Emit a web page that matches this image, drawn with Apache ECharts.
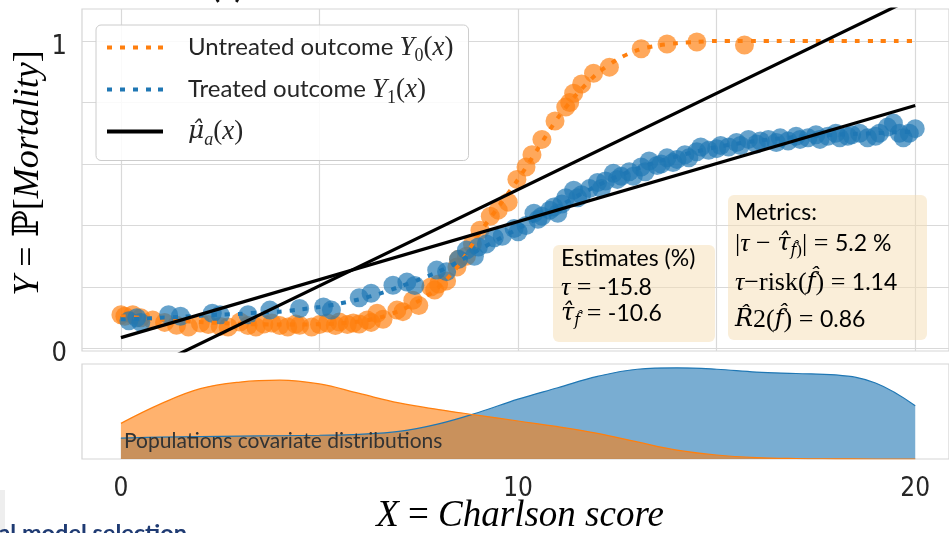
<!DOCTYPE html>
<html><head><meta charset="utf-8">
<script src="https://cdn.jsdelivr.net/npm/echarts@6/dist/echarts.min.js"></script>
<style>html,body{margin:0;padding:0;background:#fff;overflow:hidden}#c{width:949px;height:533px}</style>
</head><body><div id="c"></div>
<script>
// ---------- data ----------
const untreatedPoints = [
  [0.0,0.11],[0.1,0.105],[0.3,0.11],[0.5,0.10],[0.8,0.093],[1.1,0.085],[1.4,0.076],[1.7,0.07],
  [2.0,0.083],[2.2,0.078],[2.5,0.072],[2.7,0.07],[3.0,0.086],[3.2,0.075],[3.4,0.07],[3.6,0.08],
  [3.8,0.083],[4.0,0.075],[4.2,0.07],[4.4,0.08],[4.5,0.076],[4.8,0.07],[5.0,0.078],[5.2,0.083],
  [5.4,0.075],[5.5,0.086],[5.7,0.078],[5.85,0.083],[6.0,0.08],[6.2,0.093],[6.3,0.085],[6.45,0.115],
  [6.6,0.095],[6.95,0.125],[7.1,0.12],[7.35,0.157],[7.5,0.14],[7.8,0.20],[7.9,0.19],[8.0,0.21],
  [8.2,0.22],[8.46,0.265],[8.5,0.29],[8.7,0.30],[8.85,0.34],[9.04,0.385],[9.3,0.43],[9.5,0.45],
  [9.75,0.476],[9.97,0.55],[10.2,0.59],[10.35,0.63],[10.6,0.68],[10.93,0.74],[11.2,0.785],[11.3,0.80],
  [11.4,0.83],[11.6,0.86],[11.9,0.895],[12.3,0.915],[13.1,0.975],[13.75,0.99],[14.5,0.997],[15.7,0.987]
];
const treatedPoints = [
  [0.2,0.09],[0.4,0.10],[0.5,0.085],[1.2,0.11],[1.5,0.105],[2.3,0.115],[2.5,0.11],[3.2,0.11],
  [3.75,0.125],[4.5,0.13],[5.1,0.135],[5.3,0.125],[6.0,0.165],[6.3,0.18],[6.85,0.206],[7.2,0.216],
  [7.4,0.205],[7.95,0.255],[8.2,0.25],[8.5,0.29],[8.7,0.32],[8.9,0.30],[9.0,0.33],[9.2,0.34],
  [9.4,0.36],[9.6,0.365],[9.9,0.39],[10.0,0.38],[10.2,0.40],[10.4,0.44],[10.5,0.42],[10.6,0.43],
  [10.8,0.45],[10.9,0.46],[11.0,0.44],[11.1,0.47],[11.2,0.49],[11.4,0.515],[11.5,0.49],[11.6,0.50],
  [11.8,0.52],[12.0,0.54],[12.1,0.52],[12.2,0.545],[12.4,0.57],[12.5,0.55],[12.6,0.56],[12.8,0.575],
  [12.9,0.56],[13.1,0.59],[13.2,0.575],[13.3,0.61],[13.5,0.595],[13.6,0.60],[13.75,0.62],[13.9,0.605],
  [14.0,0.615],[14.2,0.63],[14.3,0.62],[14.5,0.64],[14.6,0.655],[14.8,0.645],[15.0,0.65],[15.1,0.66],
  [15.3,0.655],[15.5,0.67],[15.6,0.66],[15.8,0.68],[16.0,0.665],[16.1,0.675],[16.3,0.68],[16.5,0.67],
  [16.6,0.685],[16.8,0.675],[17.0,0.69],[17.1,0.68],[17.3,0.685],[17.5,0.695],[17.6,0.68],[17.8,0.69],
  [18.0,0.70],[18.1,0.685],[18.3,0.69],[18.4,0.695],[18.6,0.70],[18.8,0.685],[19.0,0.69],[19.1,0.70],
  [19.3,0.72],[19.45,0.733],[19.6,0.70],[19.7,0.685],[19.85,0.70],[20.0,0.715]
];
const curveX = [0,0.5,1,1.5,2,2.5,3,3.5,4,4.5,5,5.5,6,6.5,7,7.5,8,8.5,9,9.5,10,10.5,11,11.5,12,12.5,13,13.5,14,14.5,15,15.5,16,16.5,17,17.5,18,18.5,19,19.5,20];
const untreatedCurve = [0.105,0.10,0.095,0.09,0.086,0.083,0.08,0.079,0.078,0.078,0.079,0.082,0.088,0.10,0.122,0.155,0.20,0.27,0.37,0.46,0.55,0.65,0.75,0.83,0.895,0.94,0.97,0.985,0.993,0.997,1,1,1,1,1,1,1,1,1,1,1];
const treatedCurve = [0.095,0.097,0.10,0.103,0.107,0.11,0.113,0.117,0.12,0.127,0.135,0.146,0.16,0.178,0.2,0.224,0.25,0.283,0.32,0.355,0.39,0.425,0.46,0.497,0.53,0.56,0.585,0.607,0.625,0.641,0.655,0.666,0.675,0.682,0.688,0.692,0.695,0.698,0.70,0.703,0.705];
const fitX = [0, 20];
const fitUntreated = [-0.109, 1.143];
const fitTreated = [0.0355, 0.79];
const densityX = [0,1,2,3,4,5,6,7,8,9,10,11,12,13,14,15,16,17,18,19,20];
const densityUntreated = [0.375,0.58,0.74,0.81,0.83,0.79,0.69,0.59,0.52,0.46,0.40,0.34,0.27,0.18,0.094,0.042,0.015,0.005,0.002,0,0];
const densityTreated = [0.22,0.23,0.235,0.24,0.245,0.25,0.26,0.29,0.37,0.49,0.63,0.75,0.87,0.945,0.96,0.945,0.915,0.90,0.885,0.80,0.56];
const xGridTicks = [0,5,10,15,20];
const xLabelTicks = [0,10,20];
const yGridTicks = [0,0.2,0.4,0.6,0.8,1];
const yLabelTicks = [0,1];
const legendNames = ['Untreated outcome','Treated outcome','mu'];

// ---------- style ----------
const ORANGE = '#ff7f0e', BLUE = '#1f77b4', INK = '#262626';
const fSans = 'Lato, "DejaVu Sans", sans-serif';
const fNarrow = '"Liberation Sans Narrow", "DejaVu Sans Condensed", Lato, sans-serif';
const fMath = '"Liberation Serif", "DejaVu Serif", serif';
const fHat = '"DejaVu Serif", serif';
const pair = (xs, ys) => xs.map((x, i) => [x, ys[i]]);
const dotsIcon = 'path://M0,0h5v4h-5z M13,0h5v4h-5z M26,0h5v4h-5z M39,0h5v4h-5z M51,0h5v4h-5z';
const solidIcon = 'path://M0,0h56v4h-56z';

function mathRich(size, lh, sansSize, subSize, subLH) {
  return {
    n: {fontFamily: fSans, fontSize: sansSize, color: INK, lineHeight: lh, verticalAlign: 'middle'},
    n0: {fontFamily: fSans, fontSize: sansSize, color: INK, lineHeight: lh, verticalAlign: 'middle', padding: [0,0,0,20]},
    m: {fontFamily: fMath, fontStyle: 'italic', fontSize: size, color: INK, lineHeight: lh, verticalAlign: 'middle'},
    h: {fontFamily: fHat, fontStyle: 'italic', fontSize: size - 2, color: INK, lineHeight: lh, verticalAlign: 'middle'},
    h0: {fontFamily: fHat, fontStyle: 'italic', fontSize: size - 2, color: INK, lineHeight: lh, verticalAlign: 'middle', padding: [0,0,0,20]},
    p: {fontFamily: fMath, fontSize: size, color: INK, lineHeight: lh, verticalAlign: 'middle'},
    s: {fontFamily: fMath, fontStyle: 'italic', fontSize: subSize, color: INK, lineHeight: subLH, verticalAlign: 'bottom'},
    sh: {fontFamily: fHat, fontStyle: 'italic', fontSize: subSize - 1, color: INK, lineHeight: subLH, verticalAlign: 'bottom'},
    sp: {fontFamily: fMath, fontSize: subSize, color: INK, lineHeight: subLH, verticalAlign: 'bottom'}
  };
}
const legendRich = mathRich(27, 36, 24, 18, 20);
const boxRich = mathRich(26, 30, 23, 17, 16);
const legendText = {
  'Untreated outcome': '{n0|Untreated outcome }{m|Y}{sp|0}{p|(}{m|x}{p|)}',
  'Treated outcome': '{n0|Treated outcome }{m|Y}{sp|1}{p|(}{m|x}{p|)}',
  'mu': '{h0|μ\u0302}{s|a}{p|(}{m|x}{p|)}'
};

function boxText(x, y, text) {
  return {type: 'text', x: x, y: y, z: 101, style: {text: text, rich: boxRich, verticalAlign: 'middle', align: 'left'}};
}

const chart = echarts.init(document.getElementById('c'), null, {renderer: 'canvas'});
chart.setOption({
  animation: false,
  backgroundColor: '#ffffff',
  grid: [
    {left: 82, top: 9, right: 0, height: 342, show: true, borderColor: '#d5d5d5', borderWidth: 1.2},
    {left: 82, top: 364, right: 0, height: 95, show: true, borderColor: '#d5d5d5', borderWidth: 1.2}
  ],
  xAxis: [
    {gridIndex: 0, type: 'value', min: -0.98, max: 20.85,
     axisLine: {show: false}, axisTick: {show: false, customValues: xGridTicks},
     axisLabel: {show: false}, splitLine: {show: true, lineStyle: {color: '#d9d9d9', width: 1.2}}},
    {gridIndex: 1, type: 'value', min: -0.98, max: 20.85,
     axisLine: {show: false}, axisTick: {show: false, customValues: xLabelTicks},
     axisLabel: {show: true, customValues: xLabelTicks, margin: 17, fontSize: 26, fontFamily: fNarrow, color: INK},
     splitLine: {show: false}}
  ],
  yAxis: [
    {gridIndex: 0, type: 'value', min: -0.008, max: 1.104,
     axisLine: {show: false}, axisTick: {show: false, customValues: yGridTicks},
     axisLabel: {show: true, customValues: yLabelTicks, margin: 15, fontSize: 27, fontFamily: fNarrow, color: INK,
                 verticalAlign: 'top', lineHeight: 11, formatter: v => String(v)},
     splitLine: {show: true, lineStyle: {color: '#d9d9d9', width: 1.2}}},
    {gridIndex: 1, type: 'value', min: 0, max: 1,
     axisLine: {show: false}, axisTick: {show: false}, axisLabel: {show: false}, splitLine: {show: false}}
  ],
  legend: {
    orient: 'vertical', left: 96, top: 25,
    padding: [9, 15, 11, 11], itemGap: 10.5,
    itemWidth: 56, itemHeight: 4,
    backgroundColor: 'rgba(255,255,255,0.85)', borderColor: '#cccccc', borderWidth: 1, borderRadius: 5,
    selectedMode: false,
    data: [
      {name: legendNames[0], icon: dotsIcon, itemStyle: {color: ORANGE}},
      {name: legendNames[1], icon: dotsIcon, itemStyle: {color: BLUE}},
      {name: legendNames[2], icon: solidIcon, itemStyle: {color: '#000'}}
    ],
    formatter: name => legendText[name],
    textStyle: {rich: legendRich}
  },
  series: [
    {name: 'Untreated samples', type: 'scatter', xAxisIndex: 0, yAxisIndex: 0, data: untreatedPoints,
     symbolSize: 19, itemStyle: {color: ORANGE, opacity: 0.68}, silent: true},
    {name: 'Treated samples', type: 'scatter', xAxisIndex: 0, yAxisIndex: 0, data: treatedPoints,
     symbolSize: 19, itemStyle: {color: BLUE, opacity: 0.68}, silent: true},
    {name: legendNames[0], type: 'line', xAxisIndex: 0, yAxisIndex: 0, data: pair(curveX, untreatedCurve),
     symbol: 'none', smooth: 0.3, lineStyle: {color: ORANGE, width: 4, type: [5, 8], cap: 'butt'}, itemStyle: {color: ORANGE}},
    {name: legendNames[1], type: 'line', xAxisIndex: 0, yAxisIndex: 0, data: pair(curveX, treatedCurve),
     symbol: 'none', smooth: 0.3, lineStyle: {color: BLUE, width: 4, type: [5, 8], cap: 'butt'}, itemStyle: {color: BLUE}},
    {name: legendNames[2], type: 'line', xAxisIndex: 0, yAxisIndex: 0, data: pair(fitX, fitTreated),
     symbol: 'none', clip: true, lineStyle: {color: '#000', width: 3.2}, itemStyle: {color: '#000'}},
    {name: legendNames[2], type: 'line', xAxisIndex: 0, yAxisIndex: 0, data: pair(fitX, fitUntreated),
     symbol: 'none', clip: true, lineStyle: {color: '#000', width: 3.2}, itemStyle: {color: '#000'}},
    {name: 'Treated density', type: 'line', xAxisIndex: 1, yAxisIndex: 1, data: pair(densityX, densityTreated),
     symbol: 'none', smooth: 0.4, lineStyle: {color: BLUE, width: 1.2},
     areaStyle: {color: BLUE, opacity: 0.6}},
    {name: 'Untreated density', type: 'line', xAxisIndex: 1, yAxisIndex: 1, data: pair(densityX, densityUntreated),
     symbol: 'none', smooth: 0.4, lineStyle: {color: ORANGE, width: 1.2},
     areaStyle: {color: ORANGE, opacity: 0.6}}
  ],
  graphic: [
    {type: 'rect', z: 100, shape: {x: 553, y: 245, width: 162, height: 97, r: 6},
     style: {fill: 'rgba(245,222,179,0.5)'}},
    boxText(561, 259, '{n|Estimates (%)}'),
    boxText(561, 288, '{m|τ}{p| = }{n|-15.8}'),
    boxText(561, 314, '{h|τ\u0302}{sh|f\u0302}{p| = }{n|-10.6}'),
    {type: 'rect', z: 100, shape: {x: 728, y: 195, width: 199, height: 145, r: 6},
     style: {fill: 'rgba(245,222,179,0.5)'}},
    boxText(735, 213, '{n|Metrics:}'),
    boxText(735, 244, '{p||}{m|τ}{p| − }{h|τ\u0302}{sh|f\u0302}{sp|)}{p|| = }{n|5.2 %}'),
    boxText(735, 283, '{m|τ}{p|−risk(}{h|f\u0302}{p|) = }{n|1.14}'),
    boxText(735, 320, '{h|R\u0302}{p|2(}{h|f\u0302}{p|) = }{n|0.86}'),
    {type: 'text', z: 101, x: 124, y: 441,
     style: {text: 'Populations covariate distributions', font: '21px ' + fSans, fill: '#333333', verticalAlign: 'middle'}},
    {type: 'text', z: 101, x: 29, y: 173, rotation: Math.PI / 2,
     style: {text: '{m|Y}{p| = ℙ[}{m|Mortality}{p|]}', align: 'center', verticalAlign: 'middle',
             rich: {m: {fontFamily: fMath, fontStyle: 'italic', fontSize: 36, color: INK},
                    p: {fontFamily: fMath, fontSize: 36, color: INK}}}},
    {type: 'text', z: 101, x: 520, y: 516,
     style: {text: '{m|X}{p| = }{m|Charlson score}', align: 'center', verticalAlign: 'middle',
             rich: {m: {fontFamily: fMath, fontStyle: 'italic', fontSize: 37, color: INK},
                    p: {fontFamily: fMath, fontSize: 37, color: INK}}}},
    {type: 'text', z: 101, x: 212, y: 3,
     style: {text: '(a)', font: 'bold 30px ' + fSans, fill: '#111', verticalAlign: 'bottom'}},
    {type: 'rect', z: 101, shape: {x: -10, y: 490, width: 15, height: 50}, style: {fill: '#eeeeee'}},
    {type: 'text', z: 101, x: 187, y: 521,
     style: {text: 'Causal model selection', font: 'bold 23.5px ' + fSans, fill: '#1f3b73', align: 'right', verticalAlign: 'top'}}
  ]
});
</script>
</body></html>
